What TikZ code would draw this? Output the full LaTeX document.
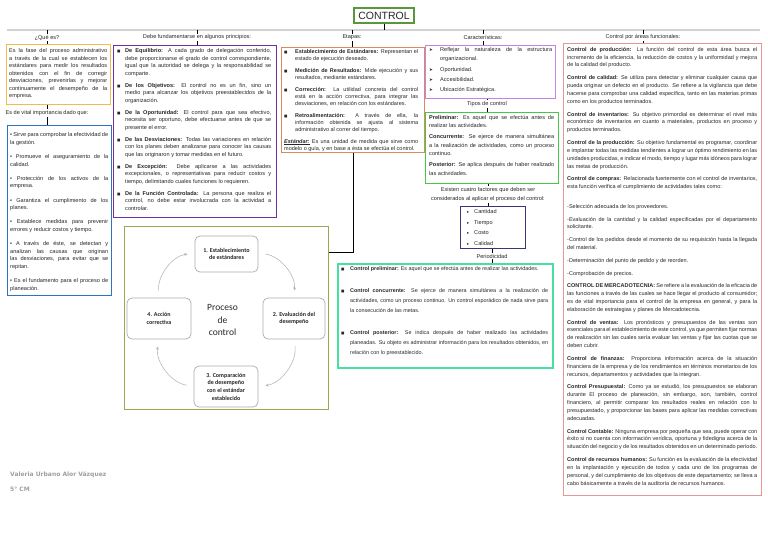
\documentclass[tikz,border=0pt]{standalone}
\usepackage{fontspec}
\setmainfont{Liberation Sans}
\newfontfamily\symf{DejaVu Sans}
\newfontfamily\carl{Carlito}
\newfontfamily\authf{DejaVu Sans}
\usetikzlibrary{calc,arrows.meta}
\definecolor{cYel}{RGB}{240,190,70}
\definecolor{cBlue}{RGB}{45,115,190}
\definecolor{cPur}{RGB}{112,48,160}
\definecolor{cOra}{RGB}{215,140,90}
\definecolor{cLil}{RGB}{200,130,230}
\definecolor{cGrn}{RGB}{70,200,70}
\definecolor{cNav}{RGB}{55,55,120}
\definecolor{cTeal}{RGB}{70,225,160}
\definecolor{cPink}{RGB}{230,150,150}
\definecolor{cOli}{RGB}{160,165,80}
\definecolor{cTitle}{RGB}{90,150,60}
\definecolor{tx}{RGB}{40,40,40}
\hyphenpenalty=10000
\exhyphenpenalty=10000
\tolerance=9999
\pretolerance=9999
\emergencystretch=6pt
\newcommand\sqb{{\symf\fontsize{3.6}{4}\selectfont ■}}
\newcommand\arr{{\symf\fontsize{4.5}{5}\selectfont ➤}}
\newcommand\tri{{\symf\fontsize{4.2}{5}\selectfont ▸}}
\newcommand\bul[3]{\hangindent=#1\hangafter=1\noindent\makebox[#1][l]{#2}#3\par}
\begin{document}
\begin{tikzpicture}[x=1pt,y=-1pt,
  bx/.style={draw=#1, line width=1.1pt, inner sep=0pt, anchor=north west, rectangle},
  body/.style={anchor=north west, inner sep=0pt, align=justify, text=tx, font=\fontsize{5.6}{7.5}\selectfont},
  lbl/.style={inner sep=1pt, text=tx, font=\fontsize{5.6}{7}\selectfont, align=center},
  wire/.style={draw=black, line width=0.9pt},
  stage/.style={draw=gray!65, line width=0.7pt, rounded corners=5pt, fill=white, align=center, font=\carl\bfseries\fontsize{6}{7.7}\selectfont, text=black!85, inner sep=1pt},
  cyc/.style={draw=gray!55, line width=0.6pt, -{Stealth[length=3.5pt,width=3pt]}, shorten >=7pt, shorten <=7pt}]
\useasboundingbox (0,0) rectangle (768,536);
\fill[white] (0,0) rectangle (768,536);

% title and bus
\node[bx=cTitle, line width=1.3pt, minimum width=60pt, minimum height=15pt, anchor=center, font=\fontsize{10.5}{12}\selectfont, text=tx] (title) at (384,15.5) {CONTROL};
\coordinate (bus) at (0,30);
\shade[left color=gray!35, middle color=black, right color=gray!35] (7,29.4) rectangle (760,30.6);
\draw[wire] (title.south) -- (title.south |- bus);

% labels on the bus
\node[lbl] (l1) at (47,37.5) {¿Qué es?};
\node[lbl] (l2) at (197,37.5) {Debe fundamentarse en algunos principios:};
\node[lbl] (l3) at (352,37.5) {Etapas:};
\node[lbl] (l4) at (483,37.5) {Características:};
\node[lbl] (l5) at (643,37.5) {Control por áreas funcionales:};

% boxes
\node[bx=cYel, minimum width=104pt, minimum height=60pt] (qb) at (6,44) {};
\node[bx=cPur, minimum width=163pt, minimum height=172pt] (pb) at (113,45) {};
\node[bx=cOra, minimum width=143pt, minimum height=105pt] (eb) at (281,47) {};
\node[bx=cLil, minimum width=130pt, minimum height=53pt] (cb) at (425,45) {};
\node[bx=cPink, minimum width=198pt, minimum height=452pt] (ab) at (563,43) {};

\foreach \l/\b in {l1/qb, l2/pb, l3/eb, l4/cb, l5/ab} {
  \draw[wire] (\l.north |- bus) -- (\l.north);
  \draw[wire] (\l.south) -- (\l.south |- \b.north);
}

% Que es
\node[body, text width=98pt] (qt) at (9,48.5) {Es la fase del proceso administrativo a través de la cual se establecen los estándares para medir los resultados obtenidos con el fin de corregir desviaciones, prevenirlas y mejorar continuamente el desempeño de la empresa.};

\node[lbl] (l6) at (47,113) {Es de vital importancia dado que:};
\node[bx=cBlue, line width=1.3pt, minimum width=104pt, minimum height=170pt] (bb) at (7,125) {};
\draw[wire] (l6.north |- qb.south) -- (l6.north);
\draw[wire] (l6.south) -- (l6.south |- bb.north);
\node[body, text width=98pt] (bt) at (10,132.5) {\setlength\parskip{6.8pt}%
• Sirve para comprobar la efectividad de la gestión.\par
• Promueve el aseguramiento de la calidad.\par
• Protección de los activos de la empresa.\par
• Garantiza el cumplimiento de los planes.\par
• Establece medidas para prevenir errores y reducir costos y tiempo.\par
• A través de éste, se detectan y analizan las causas que originan las desviaciones, para evitar que se repitan.\par
• Es el fundamento para el proceso de planeación.};

% principles
\node[body, text width=154pt] (pt) at (117,48.5) {\setlength\parskip{4.5pt}%
\bul{8pt}{\sqb}{\textbf{De Equilibrio:} A cada grado de delegación conferido, debe proporcionarse el grado de control correspondiente, igual que la autoridad se delega y la responsabilidad se comparte.}
\bul{8pt}{\sqb}{\textbf{De los Objetivos:} El control no es un fin, sino un medio para alcanzar los objetivos preestablecidos de la organización.}
\bul{8pt}{\sqb}{\textbf{De la Oportunidad:} El control para que sea efectivo, necesita ser oportuno, debe efectuarse antes de que se presente el error.}
\bul{8pt}{\sqb}{\textbf{De las Desviaciones:} Todas las variaciones en relación con los planes deben analizarse para conocer las causas que las originaron y tomar medidas en el futuro.}
\bul{8pt}{\sqb}{\textbf{De Excepción:} Debe aplicarse a las actividades excepcionales, o representativas para reducir costos y tiempo, delimitando cuales funciones lo requieren.}
\bul{8pt}{\sqb}{\textbf{De la Función Controlada:} La persona que realiza el control, no debe estar involucrada con la actividad a controlar.}};

% etapas
\node[body, text width=134pt, font=\fontsize{5.5}{7.2}\selectfont] (et) at (284,49) {\setlength\parskip{4.5pt}%
\bul{11pt}{\sqb}{\textbf{Establecimiento de Estándares:} Representan el estado de ejecución deseado.}
\bul{11pt}{\sqb}{\textbf{Medición de Resultados:} Mide ejecución y sus resultados, mediante estándares.}
\bul{11pt}{\sqb}{\textbf{Corrección:} La utilidad concreta del control está en la acción correctiva, para integrar las desviaciones, en relación con los estándares.}
\bul{11pt}{\sqb}{\textbf{Retroalimentación:} A través de ella, la información obtenida se ajusta al sistema administrativo al correr del tiempo.}
\underline{\textbf{\textit{Estándar:}}} Es una unidad de medida que sirve como modelo o guía, y en base a ésta se efectúa el control.};

% caracteristicas
\node[body, text width=123pt, font=\fontsize{5.6}{9.2}\selectfont] (ct) at (429,47.5) {\setlength\parskip{1pt}%
\bul{11pt}{\arr}{Reflejar la naturaleza de la estructura organizacional.}
\bul{11pt}{\arr}{Oportunidad.}
\bul{11pt}{\arr}{Accesibilidad.}
\bul{11pt}{\arr}{Ubicación Estratégica.}};

\node[lbl] (l7) at (487,104) {Tipos de control};
\node[bx=cGrn, minimum width=133pt, minimum height=71pt] (gb) at (425,112) {};
\draw[wire] (l7.north |- cb.south) -- (l7.north);
\draw[wire] (l7.south) -- (l7.south |- gb.north);
\node[body, text width=125pt, font=\fontsize{5.6}{8.3}\selectfont] (gt) at (429,115) {\setlength\parskip{3pt}%
\textbf{Preliminar:} Es aquel que se efectúa antes de realizar las actividades.\par
\textbf{Concurrente:} Se ejerce de manera simultánea a la realización de actividades, como un proceso continuo.\par
\textbf{Posterior:} Se aplica después de haber realizado las actividades.};

\node[lbl, font=\fontsize{5.6}{8.5}\selectfont] (l8) at (488,194.5) {Existen cuatro factores que deben ser\\considerados al aplicar el proceso del control:};
\node[bx=cNav, line width=1.2pt, minimum width=65pt, minimum height=42pt] (nb) at (460,206) {};
\draw[wire] (l8.north |- gb.south) -- (l8.north);
\draw[wire] (l8.south) -- (l8.south |- nb.north);
\node[body, align=left, font=\fontsize{5.6}{10.6}\selectfont] (nt) at (467,209.5) {\makebox[7pt][l]{\tri}Cantidad\\\makebox[7pt][l]{\tri}Tiempo\\\makebox[7pt][l]{\tri}Costo\\\makebox[7pt][l]{\tri}Calidad};

\node[lbl] (l9) at (492,256) {Periodicidad};
\node[bx=cTeal, line width=1.8pt, minimum width=215pt, minimum height=104pt] (tb) at (337,263) {};
\draw[wire] (l9.north |- nb.south) -- (l9.north);
\draw[wire] (l9.south) -- (l9.south |- tb.north);
\node[body, text width=207pt, font=\fontsize{5.4}{10}\selectfont] (tt) at (341,266) {\setlength\parskip{12pt}%
\bul{9pt}{\sqb}{\textbf{Control preliminar:} Es aquel que se efectúa antes de realizar las actividades.}
\bul{9pt}{\sqb}{\textbf{Control concurrente:} Se ejerce de manera simultánea a la realización de actividades, como un proceso continuo. Un control esporádico de nada sirve para la consecución de las metas.}
\bul{9pt}{\sqb}{\textbf{Control posterior:} Se indica después de haber realizado las actividades planeadas. Su objeto es administrar información para los resultados obtenidos, en relación con lo preestablecido.}};

% cycle
\node[bx=cOli, line width=1.3pt, minimum width=204pt, minimum height=183pt] (ol) at (124,226) {};
\coordinate (j) at (352.5,252);
\draw[wire] (eb.south) |- (ol.east |- j);
\node[stage, minimum width=63pt, minimum height=36pt] (b1) at (226.5,254) {1. Establecimiento\\de estándares};
\node[stage, minimum width=62pt, minimum height=41pt] (b2) at (294,318.5) {2. Evaluación del\\desempeño};
\node[stage, minimum width=64pt, minimum height=41pt] (b3) at (226,386.5) {3. Comparación\\de desempeño\\con el estándar\\establecido};
\node[stage, minimum width=64pt, minimum height=41pt] (b4) at (159,318.5) {4. Acción\\correctiva};
\node[align=center, text=black!85, font=\carl\fontsize{9.5}{12.5}\selectfont] (pc) at (222.5,320) {Proceso\\de\\control};
\draw[cyc] (b4) to[bend left=45] (b1);
\draw[cyc] (b1) to[bend left=45] (b2);
\draw[cyc] (b2) to[bend left=45] (b3);
\draw[cyc] (b3) to[bend left=45] (b4);

% areas funcionales
\node[body, text width=190pt, font=\fontsize{5.5}{7.85}\selectfont] (at) at (567,47) {\setlength\parskip{4.9pt}%
\textbf{Control de producción:} La función del control de esta área busca el incremento de la eficiencia, la reducción de costos y la uniformidad y mejora de la calidad del producto.\par
\textbf{Control de calidad:} Se utiliza para detectar y eliminar cualquier causa que pueda originar un defecto en el producto. Se refiere a la vigilancia que debe hacerse para comprobar una calidad específica, tanto en las materias primas como en los productos terminados.\par
\textbf{Control de inventarios:} Su objetivo primordial es determinar el nivel más económico de inventarios en cuanto a materiales, productos en proceso y productos terminados.\par
\textbf{Control de la producción:} Su objetivo fundamental es programar, coordinar e implantar todas las medidas tendientes a lograr un óptimo rendimiento en las unidades producidas, e indicar el modo, tiempo y lugar más idóneos para lograr las metas de producción.\par
\textbf{Control de compras:} Relacionada fuertemente con el control de inventarios, esta función verifica el cumplimiento de actividades tales como:\par
\vspace{7pt}-Selección adecuada de los proveedores.\par
-Evaluación de la cantidad y la calidad especificadas por el departamento solicitante.\par
-Control de los pedidos desde el momento de su requisición hasta la llegada del material.\par
-Determinación del punto de pedido y de reorden.\par
-Comprobación de precios.\par
\textbf{CONTROL DE MERCADOTECNIA:} Se refiere a la evaluación de la eficacia de las funciones a través de las cuales se hace llegar el producto al consumidor; es de vital importancia para el control de la empresa en general, y para la elaboración de estrategias y planes de Mercadotecnia.\par
\textbf{Control de ventas:} Los pronósticos y presupuestos de las ventas son esenciales para el establecimiento de este control, ya que permiten fijar normas de realización sin las cuales sería evaluar las ventas y fijar las cuotas que se deben cubrir.\par
\textbf{Control de finanzas:} Proporciona información acerca de la situación financiera de la empresa y de los rendimientos en términos monetarios de los recursos, departamentos y actividades que la integran.\par
\textbf{Control Presupuestal:} Como ya se estudió, los presupuestos se elaboran durante El proceso de planeación, sin embargo, son, también, control financiero, al permitir comparar los resultados reales en relación con lo presupuestado, y proporcionar las bases para aplicar las medidas correctivas adecuadas.\par
\textbf{Control Contable:} Ninguna empresa por pequeña que sea, puede operar con éxito si no cuenta con información verídica, oportuna y fidedigna acerca de la situación del negocio y de los resultados obtenidos en un determinado período.\par
\textbf{Control de recursos humanos:} Su función es la evaluación de la efectividad en la implantación y ejecución de todos y cada uno de los programas de personal, y del cumplimiento de los objetivos de este departamento; se lleva a cabo básicamente a través de la auditoría de recursos humanos.};

% author
\node[anchor=west, inner sep=0pt, text=gray!75, font=\authf\bfseries\fontsize{6}{7}\selectfont] (au) at (10,475) {Valeria Urbano Alor Vázquez};
\node[anchor=west, inner sep=0pt, text=gray!75, font=\authf\bfseries\fontsize{6}{7}\selectfont] (gr) at (10,489) {5° CM};
\end{tikzpicture}
\end{document}
